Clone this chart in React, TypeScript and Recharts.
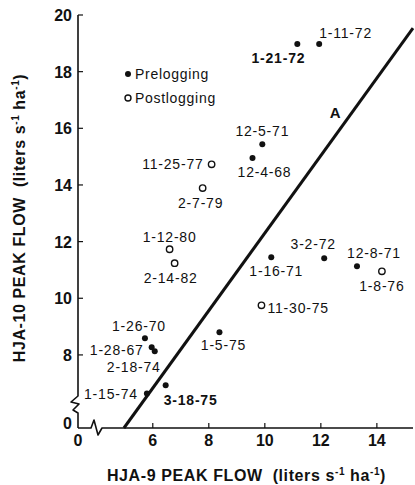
import React from "react";
import {
  Customized,
  Legend,
  ReferenceDot,
  ReferenceLine,
  Scatter,
  ScatterChart,
  XAxis,
  YAxis,
} from "recharts";

// Storm peak flows (liters s-1 ha-1), HJA-9 vs HJA-10
const PRE_DATES = ["1-11-72", "1-21-72", "12-5-71", "12-4-68", "1-16-71", "3-2-72", "12-8-71", "1-5-75", "1-26-70", "1-28-67", "2-18-74", "1-15-74", "3-18-75"];
const PRE_HJA9 = [11.94, 11.16, 9.91, 9.56, 10.23, 12.12, 13.29, 8.38, 5.72, 5.96, 6.07, 5.79, 6.46];
const PRE_HJA10 = [18.98, 18.98, 15.44, 14.95, 11.45, 11.41, 11.13, 8.8, 8.59, 8.27, 8.13, 6.64, 6.93];

const POST_DATES = ["11-25-77", "2-7-79", "1-12-80", "2-14-82", "1-8-76", "11-30-75"];
const POST_HJA9 = [8.1, 7.78, 6.6, 6.78, 14.18, 9.88];
const POST_HJA10 = [14.73, 13.89, 11.73, 11.24, 10.95, 9.75];

// line A end points
const LINE_A_HJA9 = [4.97, 15.29];
const LINE_A_HJA10 = [5.42, 19.54];
const LINE_A_LABEL = { x: 12.51, y: 16.54 };

// broken axes: the lowest visible value is shown as "0"
const X_MIN = 3.33;
const X_MAX = 15.29;
const Y_MIN = 5.42;
const Y_MAX = 20;
const X_TICKS = [X_MIN, 6, 8, 10, 12, 14];
const Y_TICKS = [Y_MIN, 8, 10, 12, 14, 16, 18, 20];

const pre = PRE_DATES.map((d, i) => ({ date: d, x: PRE_HJA9[i], y: PRE_HJA10[i] }));
const post = POST_DATES.map((d, i) => ({ date: d, x: POST_HJA9[i], y: POST_HJA10[i] }));

const FONT = "'Liberation Sans', Arial, Helvetica, sans-serif";
const INK = "#111";

// label placement around each point: [dx, dy(baseline), anchor, bold]
const LABEL_POS: Record<string, [number, number, string, boolean?]> = {
  "1-11-72": [0, -6, "start"],
  "1-21-72": [8, 19, "end", true],
  "12-5-71": [0, -8, "middle"],
  "12-4-68": [12, 19, "middle"],
  "1-16-71": [5, 19, "middle"],
  "3-2-72": [-11, -9, "middle"],
  "12-8-71": [17, -8, "middle"],
  "1-5-75": [4, 18, "middle"],
  "1-26-70": [-6, -7, "middle"],
  "1-28-67": [-8, 8, "end"],
  "2-18-74": [-21, 21, "middle"],
  "1-15-74": [-9, 6, "end"],
  "3-18-75": [-2, 20, "start", true],
  "11-25-77": [-8, 5, "end"],
  "2-7-79": [-2, 20, "middle"],
  "1-12-80": [0, -7, "middle"],
  "2-14-82": [-4, 20, "middle"],
  "1-8-76": [0, 20, "middle"],
  "11-30-75": [6, 8, "start"],
};

// plot frame (matches chart margins + axis sizes)
const PLOT = { left: 78, top: 15, right: 413, bottom: 428 };
const TICK_MARGIN = 6;

function PointLabel({ cx, cy, date }: any) {
  const [dx, dy, anchor, bold] = LABEL_POS[date] || [6, 4, "start"];
  return (
    <text
      x={cx + dx}
      y={cy + dy}
      textAnchor={anchor as any}
      fontFamily={FONT}
      fontSize={14}
      fontWeight={bold ? 700 : 400}
      letterSpacing={0.8}
      fill={INK}
    >
      {date}
    </text>
  );
}

function PreShape(props: any) {
  return (
    <g>
      <circle cx={props.cx} cy={props.cy} r={3} fill={INK} />
      <PointLabel cx={props.cx} cy={props.cy} date={props.payload.date} />
    </g>
  );
}

function PostShape(props: any) {
  return (
    <g>
      <circle cx={props.cx} cy={props.cy} r={3.2} fill="#fff" stroke={INK} strokeWidth={1.4} />
      <PointLabel cx={props.cx} cy={props.cy} date={props.payload.date} />
    </g>
  );
}

function XTick({ x, y, payload, index }: any) {
  return (
    <g>
      {index > 0 && <line x1={x} x2={x} y1={y - TICK_MARGIN} y2={y - TICK_MARGIN - 5} stroke={INK} strokeWidth={1.2} />}
      <text x={x} y={y + 12} textAnchor="middle" fontFamily={FONT} fontSize={16} fontWeight={700} fill={INK}>
        {payload.value === X_MIN ? "0" : payload.value}
      </text>
    </g>
  );
}

function YTick({ x, y, payload, index }: any) {
  const zero = payload.value === Y_MIN;
  return (
    <g>
      {index > 0 && <line x1={x + TICK_MARGIN} x2={x + TICK_MARGIN + 5} y1={y} y2={y} stroke={INK} strokeWidth={1.2} />}
      <text x={x} y={y + (zero ? 1 : 6)} textAnchor="end" fontFamily={FONT} fontSize={16} fontWeight={700} fill={INK}>
        {zero ? "0" : payload.value}
      </text>
    </g>
  );
}

function TopTick({ x, y }: any) {
  return <line x1={x} x2={x} y1={y} y2={y + 5} stroke={INK} strokeWidth={1.2} />;
}

function RightTick({ x, y }: any) {
  return <line x1={x - 5} x2={x} y1={y} y2={y} stroke={INK} strokeWidth={1.2} />;
}

function Units() {
  return (
    <>
      <tspan dx={10}>(liters s</tspan>
      <tspan dy={-6} fontSize={10}>-1</tspan>
      <tspan dy={6}> ha</tspan>
      <tspan dy={-6} fontSize={10}>-1</tspan>
      <tspan dy={6}>)</tspan>
    </>
  );
}

function XTitle() {
  const cx = (PLOT.left + PLOT.right) / 2 + 1;
  return (
    <text x={cx} y={481} textAnchor="middle" fontFamily={FONT} fontSize={16} fontWeight={700} letterSpacing={0.6} fill={INK}>
      HJA-9 PEAK FLOW
      <Units />
    </text>
  );
}

function YTitle() {
  const x = 25;
  const cy = 218;
  return (
    <text
      x={x}
      y={cy}
      transform={`rotate(-90, ${x}, ${cy})`}
      textAnchor="middle"
      fontFamily={FONT}
      fontSize={16}
      fontWeight={700}
      letterSpacing={0.6}
      fill={INK}
    >
      HJA-10 PEAK FLOW
      <Units />
    </text>
  );
}

// left and bottom axis lines with the break marks
function BrokenFrame() {
  const { left, bottom, right, top } = PLOT;
  return (
    <g>
      <g fill="none" stroke={INK} strokeWidth={1.6} strokeLinejoin="round">
        <path
          d={`M${left},${top} L${left},${bottom - 32} L${left - 7},${bottom - 26} L${left + 1},${bottom - 24} L${left - 5},${bottom - 18} L${left},${bottom - 15} L${left},${bottom}`}
        />
        <path
          d={`M${left},${bottom} L${left + 13},${bottom} L${left + 16},${bottom - 8} L${left + 20},${bottom + 7} L${left + 24},${bottom} L${right},${bottom}`}
        />
      </g>
      <XTitle />
      <YTitle />
    </g>
  );
}

function LegendBox() {
  const row = { display: "flex", alignItems: "center", height: 24 } as const;
  return (
    <div style={{ fontFamily: FONT, fontSize: 14, letterSpacing: 0.7, color: INK }}>
      <div style={row}>
        <svg width={9} height={10} style={{ marginRight: 2 }}>
          <circle cx={4} cy={5} r={3} fill={INK} />
        </svg>
        Prelogging
      </div>
      <div style={row}>
        <svg width={9} height={10} style={{ marginRight: 2 }}>
          <circle cx={4} cy={5} r={3} fill="#fff" stroke={INK} strokeWidth={1.4} />
        </svg>
        Postlogging
      </div>
    </div>
  );
}

export default function App() {
  return (
    <div style={{ position: "absolute", left: 0, top: 0, width: 415, height: 485, background: "#fff" }}>
      <ScatterChart width={415} height={485} margin={{ top: 15, right: 2, bottom: 0, left: 0 }}>
        <XAxis
          type="number"
          dataKey="x"
          domain={[X_MIN, X_MAX]}
          ticks={X_TICKS}
          allowDataOverflow
          height={57}
          axisLine={false}
          tickLine={false}
          tickSize={0}
          tickMargin={TICK_MARGIN}
          tick={XTick}
        />
        <YAxis
          type="number"
          dataKey="y"
          domain={[Y_MIN, Y_MAX]}
          ticks={Y_TICKS}
          allowDataOverflow
          width={78}
          axisLine={false}
          tickLine={false}
          tickSize={0}
          tickMargin={TICK_MARGIN}
          tick={YTick}
        />
        <XAxis
          xAxisId="top"
          orientation="top"
          type="number"
          domain={[X_MIN, X_MAX]}
          ticks={[6, 8, 10, 12, 14]}
          allowDataOverflow
          height={0}
          axisLine={{ stroke: INK, strokeWidth: 1.6 }}
          tickLine={false}
          tickSize={0}
          tickMargin={0}
          tick={TopTick}
        />
        <YAxis
          yAxisId="right"
          orientation="right"
          type="number"
          domain={[Y_MIN, Y_MAX]}
          ticks={[8, 10, 12, 14, 16, 18]}
          allowDataOverflow
          width={0}
          axisLine={{ stroke: INK, strokeWidth: 1.6 }}
          tickLine={false}
          tickSize={0}
          tickMargin={0}
          tick={RightTick}
        />
        <Customized component={BrokenFrame} />
        <ReferenceLine
          segment={[
            { x: LINE_A_HJA9[0], y: LINE_A_HJA10[0] },
            { x: LINE_A_HJA9[1], y: LINE_A_HJA10[1] },
          ]}
          stroke={INK}
          strokeWidth={3}
          ifOverflow="visible"
        />
        <ReferenceDot
          x={LINE_A_LABEL.x}
          y={LINE_A_LABEL.y}
          r={0}
          ifOverflow="visible"
          shape={(p: any) => (
            <text x={p.cx} y={p.cy + 5} textAnchor="middle" fontFamily={FONT} fontSize={15} fontWeight={700} fill={INK}>
              A
            </text>
          )}
        />
        <Scatter name="Prelogging" data={pre} shape={PreShape} isAnimationActive={false} />
        <Scatter name="Postlogging" data={post} shape={PostShape} isAnimationActive={false} />
        <Legend
          layout="horizontal"
          verticalAlign="middle"
          align="center"
          content={LegendBox}
          wrapperStyle={{ left: 124, top: 62, width: "auto", height: "auto" }}
        />
      </ScatterChart>
    </div>
  );
}
